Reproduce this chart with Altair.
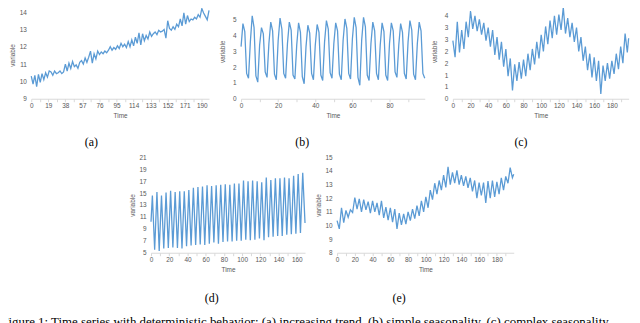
import altair as alt
import pandas as pd

# ---------------- data ----------------
# (a) increasing trend, sampled every 2 time units (0..198)
a_time = list(range(0, 200, 2))
a_value = [
    10.3, 9.85, 10.35, 9.7, 10.4, 9.95, 10.45, 10.1, 10.5, 10.25,
    10.6, 10.55, 10.35, 10.6, 10.45, 10.5, 10.6, 10.45, 10.55, 11.0,
    10.6, 11.05, 10.75, 11.15, 10.85, 10.95, 10.75, 11.1, 11.2, 11.0,
    11.35, 11.1, 11.4, 11.75, 11.05, 11.6, 11.3, 11.75, 11.55, 11.7,
    11.6, 11.75, 11.65, 11.8, 12.0, 11.8, 11.95, 11.85, 12.05, 11.9,
    12.2, 12.0, 12.15, 11.95, 12.3, 12.0, 12.4, 12.05, 12.55, 12.2,
    12.8, 12.1, 12.75, 12.35, 12.65, 12.45, 12.85, 12.6, 12.75, 12.85,
    12.7, 12.95, 12.85, 12.9, 13.0, 12.5, 13.5, 13.05, 12.95, 13.15,
    13.0, 13.3, 13.15, 13.6, 13.2, 13.95, 13.3, 13.8, 13.45, 13.6,
    13.55, 13.7, 13.6, 13.85, 13.7, 14.2, 13.95, 13.75, 13.55, 14.1,
]

# (b) simple seasonality, time 0..99
b_time = list(range(0, 100))
b_value = [
    3.3, 4.75, 4.25, 1.6, 1.3,   3.6, 5.25, 4.5, 1.45, 1.05,
    3.4, 4.5, 4.1, 1.7, 1.35,    3.5, 4.85, 4.3, 1.55, 1.2,
    3.7, 5.1, 4.4, 1.6, 1.3,     3.5, 4.85, 4.35, 1.5, 1.25,
    3.4, 4.8, 4.2, 1.4, 0.95,    3.3, 4.65, 4.15, 1.6, 1.2,
    3.4, 4.7, 4.2, 1.5, 1.15,    3.6, 4.95, 4.4, 1.65, 1.3,
    3.5, 4.8, 4.3, 1.55, 1.2,    3.7, 5.05, 4.45, 1.6, 1.25,
    3.8, 5.15, 4.5, 1.35, 0.85,  3.7, 5.15, 4.55, 1.5, 1.15,
    3.5, 4.85, 4.3, 1.6, 1.2,    3.4, 4.8, 4.25, 1.5, 1.15,
    3.5, 4.8, 4.3, 1.7, 1.35,    3.4, 4.75, 4.2, 1.6, 1.25,
    3.6, 4.95, 4.35, 1.55, 1.2,  3.5, 4.85, 4.3, 1.6, 1.3,
]

# (c) complex seasonality: highs / lows every 2.5 time units, last point at 199
c_time = [i * 2.5 for i in range(80)] + [199]
c_value = [
    2.45, 1.75, 3.25, 1.95, 2.9, 2.1, 3.25, 2.6, 3.7, 2.95,
    3.5, 2.85, 3.35, 2.7, 3.2, 2.45, 3.0, 2.2, 2.9, 1.85,
    2.6, 1.65, 2.4, 1.35, 2.1, 0.95, 1.7, 0.35, 1.45, 0.75,
    1.55, 0.85, 1.65, 0.95, 1.9, 1.2, 2.1, 1.45, 2.4, 1.7,
    2.7, 2.0, 3.05, 2.3, 3.3, 2.55, 3.5, 2.7, 3.55, 2.9,
    3.85, 2.75, 3.4, 2.6, 3.2, 2.4, 3.0, 2.0, 2.6, 1.6,
    2.2, 1.2, 1.9, 0.9, 1.75, 0.75, 1.6, 0.2, 1.4, 0.75,
    1.5, 0.85, 1.6, 1.05, 1.9, 1.25, 2.2, 1.5, 2.75, 1.95,
    2.55,
]

# (d) trend + seasonality: start, alternating peaks / troughs, end
d_start = 10.2
d_end = 10.0
d_peaks = [
    14.6, 15.2, 14.6, 15.1, 15.4, 15.2, 15.3, 15.3, 15.5, 15.9,
    16.0, 16.1, 16.3, 16.2, 16.3, 16.4, 16.5, 16.4, 16.6, 16.6,
    17.1, 17.0, 17.1, 17.0, 16.8, 17.6, 17.2, 17.5, 17.5, 17.6,
    17.5, 17.9, 18.2, 18.4,
]
d_troughs = [
    5.5, 5.3, 5.7, 5.8, 5.9, 5.8, 5.7, 6.1, 6.2, 6.3,
    6.4, 6.3, 6.5, 6.7, 6.5, 6.8, 6.9, 6.9, 7.0, 7.0,
    7.2, 7.1, 7.2, 7.4, 7.1, 7.6, 7.7, 7.8, 7.8, 8.0,
    8.1, 8.2, 8.3,
]

# (e) trend + complex seasonality: highs / lows every 2.5 time units
e_time = [i * 2.5 for i in range(80)] + [199]
e_value = [
    10.35, 9.75, 11.3, 10.2, 11.1, 10.6, 11.15, 10.95, 12.05, 11.2,
    11.95, 11.0, 11.9, 11.15, 11.75, 10.9, 11.8, 11.0, 11.65, 10.75,
    11.8, 10.55, 11.35, 10.4, 11.3, 10.25, 11.2, 9.75, 10.9, 10.05,
    10.85, 10.1, 11.0, 10.35, 11.2, 10.5, 11.45, 10.7, 11.8, 11.0,
    12.1, 11.3, 12.6, 11.9, 13.1, 12.3, 13.3, 12.6, 13.7, 12.8,
    14.3, 13.0, 13.9, 13.1, 14.05, 13.0, 13.7, 12.9, 13.6, 12.75,
    13.5, 12.5, 13.3, 12.0, 13.15, 12.2, 13.15, 11.65, 13.25, 12.0,
    13.3, 12.1, 13.2, 12.3, 13.5, 12.6, 13.6, 13.1, 14.25, 13.5,
    13.75,
]

captions = ["(a)", "(b)", "(c)", "(d)", "(e)"]
figure_caption = ("Figure 1: Time series with deterministic behavior: (a) increasing trend, "
                  "(b) simple seasonality, (c) complex seasonality,")

# ---------------- build tables ----------------
d_time = [0.0]
d_value = [d_start]
for i, p in enumerate(d_peaks):
    d_time.append(1.5 + 5 * i)
    d_value.append(p)
    if i < len(d_troughs):
        d_time.append(4.0 + 5 * i)
        d_value.append(d_troughs[i])
d_time.append(169.0)
d_value.append(d_end)

df_a = pd.DataFrame({"Time": a_time, "variable": a_value})
df_b = pd.DataFrame({"Time": b_time, "variable": b_value})
df_c = pd.DataFrame({"Time": c_time, "variable": c_value})
df_d = pd.DataFrame({"Time": d_time, "variable": d_value})
df_e = pd.DataFrame({"Time": e_time, "variable": e_value})

LINE = "#5B9BD5"
AXC = "#595959"
AXF = "Liberation Sans"
SERIF = "Liberation Serif"


def panel(df, xdom, xpx, width, height, ydom, yvals, xticks, xstep, cap, cap_dx,
          cap_off=18, yfmt="d", ytitle_y=None):
    x_axis = alt.Axis(
        values=xticks,
        labelExpr=f"abs(datum.value % {xstep}) < 0.001 ? datum.label : ''",
        labelFlush=False, labelOverlap=False, labelBound=False,
        domain=True, domainColor="#D9D9D9", domainWidth=1,
        ticks=True, tickColor="#D9D9D9", tickSize=3, tickWidth=1,
        grid=False, labelPadding=1,
        labelFont=AXF, labelFontSize=6.5, labelColor=AXC,
        title="Time", titleFont=AXF, titleFontSize=6.5, titleColor=AXC,
        titleFontWeight="normal", titleY=17, titleBaseline="middle",
    )
    y_axis = alt.Axis(
        values=yvals, format=yfmt,
        domain=False, ticks=False, grid=False, labelPadding=5,
        labelFont=AXF, labelFontSize=6.5, labelColor=AXC,
        title="variable", titleFont=AXF, titleFontSize=6.5, titleColor=AXC,
        titleFontWeight="normal", titleX=-19,
        titleY=(height / 2 if ytitle_y is None else ytitle_y),
        titleBaseline="middle", titleAngle=270,
    )
    return alt.Chart(df).mark_line(color=LINE, strokeWidth=1.3).encode(
        x=alt.X("Time:Q", scale=alt.Scale(domain=xdom, range=[0, xpx], nice=False, zero=False),
                axis=x_axis),
        y=alt.Y("variable:Q", scale=alt.Scale(domain=ydom, nice=False, zero=False),
                axis=y_axis),
    ).properties(
        width=width, height=height,
        title=alt.TitleParams(text=cap, orient="bottom", anchor="middle", frame="group",
                              dx=cap_dx, offset=cap_off, font=SERIF, fontSize=12,
                              fontWeight="normal", color="black"),
    )


H1 = 95.8
H2 = 96.4

pa = panel(df_a, [0, 198], 179.6, 183.3, H1, [9, 14.47], [9, 10, 11, 12, 13, 14],
           [i * 9.5 for i in range(21)], 19, captions[0], -31, ytitle_y=51.5)
pb = panel(df_b, [0, 99], 185.6, 185.7, H1, [0, 6], [0, 1, 2, 3, 4, 5, 6],
           list(range(0, 100, 10)), 20, captions[1], -31)
pc = panel(df_c, [0, 199], 177.6, 177.6, H1, [0, 4], [i * 0.5 for i in range(9)],
           list(range(0, 200, 10)), 20, captions[2], -20, yfmt=".0f")
pd_ = panel(df_d, [0, 169], 155.6, 155.6, H2, [5, 21], list(range(5, 22, 2)),
            list(range(0, 170, 10)), 20, captions[3], -16.5, cap_off=20.5)
pe = panel(df_e, [0, 199], 178.5, 178.5, H2, [8, 15], list(range(8, 16)),
           list(range(0, 200, 10)), 20, captions[4], -26.5, cap_off=20.5)

spacer = alt.Chart(pd.DataFrame({"s": [0]})).mark_point(opacity=0).encode(
    x=alt.value(0), y=alt.value(0)
).properties(width=88.7, height=H2)

top = alt.hconcat(pa, pb, pc, spacing=28, bounds="flush")
bottom = alt.hconcat(spacer, pd_, pe, spacing=32, bounds="flush")

chart = alt.vconcat(top, bottom, spacing=6).properties(
    background="white",
    padding={"left": -7.5, "top": -8.8, "right": 0, "bottom": 0},
    title=alt.TitleParams(text=figure_caption, orient="bottom", anchor="start",
                          frame="bounds", dx=-8.25, offset=12, font=SERIF,
                          fontSize=13, fontWeight="normal", color="black"),
).configure_view(strokeWidth=0, stroke="transparent")

chart.save("out.html", embed_options={"renderer": "svg", "actions": False})
